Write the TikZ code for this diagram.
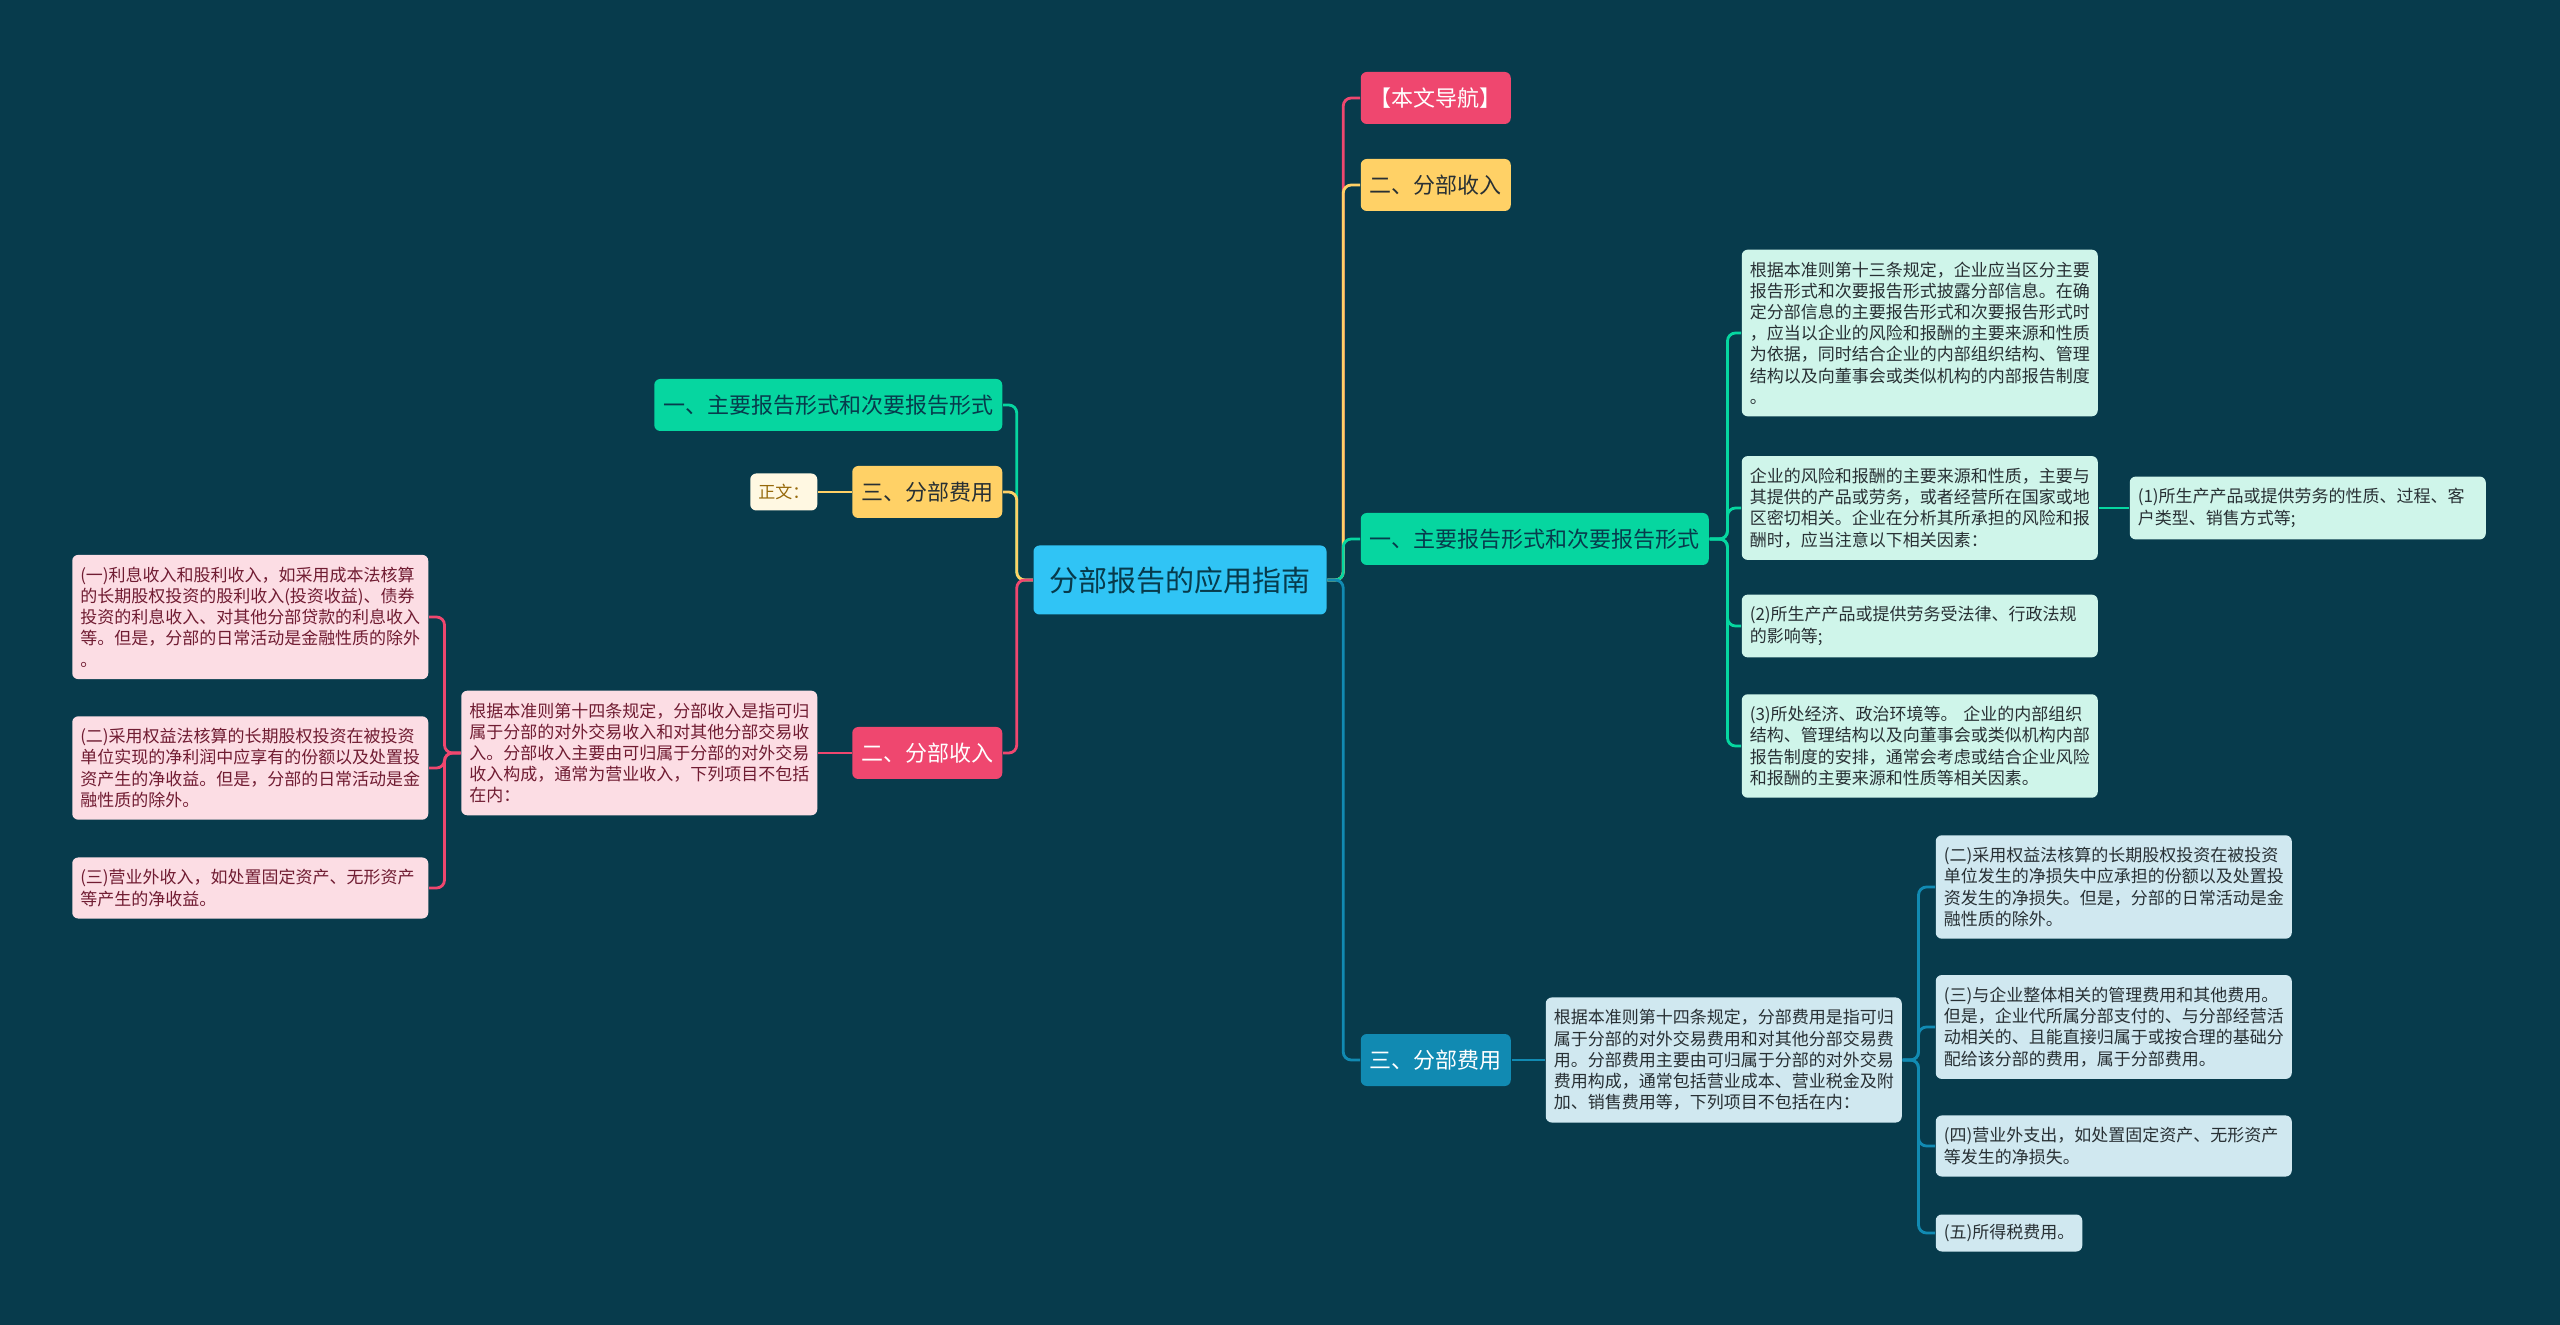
\documentclass[tikz,border=0pt]{standalone}
\usepackage{fontspec}
\newfontfamily\cjk{Noto Sans CJK SC}

\definecolor{bgnavy}{RGB}{7,59,76}
\definecolor{rootblue}{RGB}{48,196,245}
\definecolor{rosered}{RGB}{239,71,111}
\definecolor{sunyellow}{RGB}{255,209,102}
\definecolor{mintgreen}{RGB}{6,214,160}
\definecolor{seablue}{RGB}{17,138,178}
\definecolor{rosepale}{RGB}{252,221,228}
\definecolor{mintpale}{RGB}{207,245,234}
\definecolor{seapale}{RGB}{208,232,240}
\definecolor{cream}{RGB}{255,248,226}
\definecolor{inkdark}{RGB}{40,48,52}
\definecolor{inkrose}{RGB}{112,28,50}
\definecolor{inkbrown}{RGB}{150,105,10}

\tikzset{every picture/.style={line width=0.75pt}}
\tikzset{
  rootbox/.style={rounded corners=3pt, fill=rootblue, text=bgnavy, inner xsep=8pt,
    minimum height=34.5pt, font=\cjk\fontsize{14.5pt}{17pt}\selectfont},
  topic/.style={rounded corners=3pt, inner xsep=4.5pt, minimum height=26pt,
    font=\cjk\fontsize{11pt}{13pt}\selectfont},
  leaf/.style={rounded corners=3pt, inner xsep=4pt, inner ysep=6pt, text width=170pt,
    align=left, font=\cjk\fontsize{8.5pt}{10.6pt}\selectfont},
  shortleaf/.style={rounded corners=3pt, inner xsep=4pt, minimum height=18.5pt,
    font=\cjk\fontsize{8.5pt}{10.6pt}\selectfont},
  link/.style={line width=1.4pt, rounded corners=4pt},
}

\begin{document}
\begin{tikzpicture}[x=0.5pt,y=0.5pt,yscale=-1,xscale=1]
%set diagram size 2560 x 1325
\fill [bgnavy] (0,0) rectangle (2560,1325);
\useasboundingbox (0,0) rectangle (2560,1325);

% Root Node
\node (root) at (1180,580) [rootbox] {分部报告的应用指南};

% Right topics
\node (nav) at (1360,98) [anchor=west, topic, fill=rosered, text=white] {【本文导航】};
\node (rincome) at (1360,185) [anchor=west, topic, fill=sunyellow, text=inkdark] {二、分部收入};
\node (rmain) at (1360,539) [anchor=west, topic, fill=mintgreen, text=bgnavy] {一、主要报告形式和次要报告形式};
\node (rcost) at (1360,1060) [anchor=west, topic, fill=seablue, text=white] {三、分部费用};

% Left topics
\node (lmain) at (1003,405) [anchor=east, topic, fill=mintgreen, text=bgnavy] {一、主要报告形式和次要报告形式};
\node (lcost) at (1003,492) [anchor=east, topic, fill=sunyellow, text=inkdark] {三、分部费用};
\node (lnote) at (818,492) [anchor=east, shortleaf, fill=cream, text=inkbrown] {正文：};
\node (lincome) at (1003,753) [anchor=east, topic, fill=rosered, text=white] {二、分部收入};

% Green leaves
\node (ga) at (1741,333) [anchor=west, leaf, fill=mintpale, text=inkdark] {根据本准则第十三条规定，企业应当区分主要\\报告形式和次要报告形式披露分部信息。在确\\定分部信息的主要报告形式和次要报告形式时\\，应当以企业的风险和报酬的主要来源和性质\\为依据，同时结合企业的内部组织结构、管理\\结构以及向董事会或类似机构的内部报告制度\\。};
\node (gb) at (1741,508) [anchor=west, leaf, fill=mintpale, text=inkdark] {企业的风险和报酬的主要来源和性质，主要与\\其提供的产品或劳务，或者经营所在国家或地\\区密切相关。企业在分析其所承担的风险和报\\酬时，应当注意以下相关因素：};
\node (gbone) at (2129,508) [anchor=west, leaf, fill=mintpale, text=inkdark] {(1)所生产产品或提供劳务的性质、过程、客\\户类型、销售方式等;};
\node (gc) at (1741,626) [anchor=west, leaf, fill=mintpale, text=inkdark] {(2)所生产产品或提供劳务受法律、行政法规\\的影响等;};
\node (gd) at (1741,746) [anchor=west, leaf, fill=mintpale, text=inkdark] {(3)所处经济、政治环境等。 企业的内部组织\\结构、管理结构以及向董事会或类似机构内部\\报告制度的安排，通常会考虑或结合企业风险\\和报酬的主要来源和性质等相关因素。};

% Blue leaves
\node (bt) at (1545,1060) [anchor=west, leaf, fill=seapale, text=inkdark] {根据本准则第十四条规定，分部费用是指可归\\属于分部的对外交易费用和对其他分部交易费\\用。分部费用主要由可归属于分部的对外交易\\费用构成，通常包括营业成本、营业税金及附\\加、销售费用等，下列项目不包括在内：};
\node (ba) at (1935,887) [anchor=west, leaf, fill=seapale, text=inkdark] {(二)采用权益法核算的长期股权投资在被投资\\单位发生的净损失中应承担的份额以及处置投\\资发生的净损失。但是，分部的日常活动是金\\融性质的除外。};
\node (bb) at (1935,1027) [anchor=west, leaf, fill=seapale, text=inkdark] {(三)与企业整体相关的管理费用和其他费用。\\但是，企业代所属分部支付的、与分部经营活\\动相关的、且能直接归属于或按合理的基础分\\配给该分部的费用，属于分部费用。};
\node (bc) at (1935,1146) [anchor=west, leaf, fill=seapale, text=inkdark] {(四)营业外支出，如处置固定资产、无形资产\\等发生的净损失。};
\node (bd) at (1935,1233) [anchor=west, shortleaf, fill=seapale, text=inkdark] {(五)所得税费用。};

% Pink leaves
\node (pt) at (818,753) [anchor=east, leaf, fill=rosepale, text=inkrose] {根据本准则第十四条规定，分部收入是指可归\\属于分部的对外交易收入和对其他分部交易收\\入。分部收入主要由可归属于分部的对外交易\\收入构成，通常为营业收入，下列项目不包括\\在内：};
\node (pa) at (429,617) [anchor=east, leaf, fill=rosepale, text=inkrose] {(一)利息收入和股利收入，如采用成本法核算\\的长期股权投资的股利收入(投资收益)、债券\\投资的利息收入、对其他分部贷款的利息收入\\等。但是，分部的日常活动是金融性质的除外\\。};
\node (pb) at (429,768) [anchor=east, leaf, fill=rosepale, text=inkrose] {(二)采用权益法核算的长期股权投资在被投资\\单位实现的净利润中应享有的份额以及处置投\\资产生的净收益。但是，分部的日常活动是金\\融性质的除外。};
\node (pc) at (429,888) [anchor=east, leaf, fill=rosepale, text=inkrose] {(三)营业外收入，如处置固定资产、无形资产\\等产生的净收益。};

%Straight Lines: root to right topics
\draw [link, rosered] (root.east) -- ++(16,0) |- (nav.west);
\draw [link, sunyellow] (root.east) -- ++(16,0) |- (rincome.west);
\draw [link, mintgreen] (root.east) -- ++(16,0) |- (rmain.west);
\draw [link, seablue] (root.east) -- ++(16,0) |- (rcost.west);
%Straight Lines: root to left topics
\draw [link, mintgreen] (root.west) -- ++(-16,0) |- (lmain.east);
\draw [link, sunyellow] (root.west) -- ++(-16,0) |- (lcost.east);
\draw [link, rosered] (root.west) -- ++(-16,0) |- (lincome.east);
\draw [link, sunyellow] (lcost.west) -- (lnote.east);
\draw [link, rosered] (lincome.west) -- (pt.east);
%Straight Lines: green branch
\foreach \k in {ga,gb,gc,gd}
  \draw [link, mintgreen] (rmain.east) -- ++(18,0) |- (\k.west);
\draw [link, mintgreen] (gb.east) -- (gbone.west);
%Straight Lines: blue branch
\draw [link, seablue] (rcost.east) -- (bt.west);
\foreach \k in {ba,bb,bc,bd}
  \draw [link, seablue] (bt.east) -- ++(16,0) |- (\k.west);
%Straight Lines: pink branch
\foreach \k in {pa,pb,pc}
  \draw [link, rosered] (pt.west) -- ++(-16,0) |- (\k.east);

\end{tikzpicture}
\end{document}
